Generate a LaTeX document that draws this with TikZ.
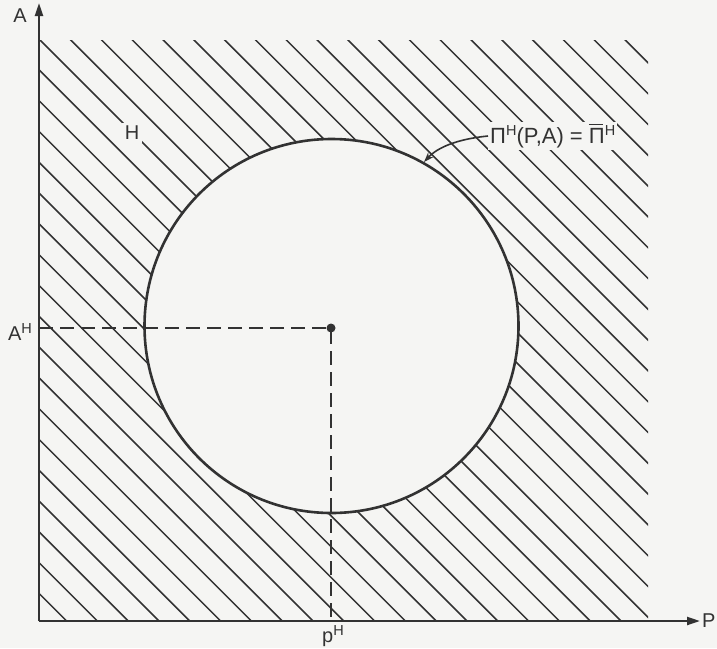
\documentclass[tikz,border=0pt]{standalone}
\usepackage{fontspec}
\setmainfont{Liberation Sans}
\usetikzlibrary{arrows.meta}
\definecolor{paper}{RGB}{245,245,243}
\definecolor{ink}{RGB}{50,50,50}
\tikzset{
  axis/.style={draw=ink, line width=2.2pt, -{Triangle[length=13pt,width=8pt]}},
  hatch/.style={draw=ink, line width=1.5pt},
  curve/.style={draw=ink, line width=2.6pt},
  dashline/.style={draw=ink, line width=2pt, dash pattern=on 14pt off 7pt},
  dotnode/.style={circle, fill=ink, inner sep=0pt, minimum size=9pt},
  lab/.style={text=ink, font=\fontsize{20}{20}\selectfont, inner sep=1.5pt},
  labbg/.style={lab, fill=paper, inner sep=3pt},
  pointer/.style={draw=ink, line width=1.6pt, -{Stealth[length=10pt,width=7pt]}}
}
\newcommand{\supH}{\raisebox{0.36em}{\fontsize{14.5}{14.5}\selectfont H}}
\newcommand{\barPi}{\makebox[0pt][l]{\raisebox{0.86em}{\rule{0.64em}{1.4pt}}}Π}
\begin{document}
\begin{tikzpicture}[x=1pt,y=-1pt]
\useasboundingbox (0,0) rectangle (717,648);
\fill[paper] (0,0) rectangle (717,648);
% hatching
\begin{scope}
  \clip (39,40) rectangle (648,621);
  \foreach \k in {-20,...,21} {
    \draw[hatch] ({30.8*\k},0) -- ++(700,700);
  }
\end{scope}
% circle
\fill[paper] (331.5,326) circle (187);
\draw[curve] (331.5,326) circle (187);
% axes
\coordinate (O) at (39,621);
\coordinate (Atop) at (39,3);
\coordinate (Pend) at (700,621);
\draw[axis] (O) -- (Atop);
\draw[axis] (O) -- (Pend);
% equilibrium point and dashed lines
\node[dotnode] (E) at (331,328) {};
\coordinate (AH) at (39,328);
\coordinate (PH) at (331,621);
\draw[dashline] (AH) -- (E.center) -- (PH);
% labels
\node[lab] (A) at (20,16) {A};
\node[lab, anchor=west, inner sep=0pt] (P) at (702,621) {P};
\node[lab] (AHlab) at (20,332) {A\supH};
\node[lab] (PHlab) at (333,636) {p\supH};
\node[labbg] (Hlab) at (132,133) {H};
\node[labbg, anchor=west, inner sep=2pt, font=\fontsize{22}{22}\selectfont] (Pi) at (488,136) {Π\supH(P,A) = \barPi\supH};
\coordinate (tip) at (424,162);
\draw[pointer] (Pi.west) .. controls (458,139) and (438,147) .. (tip);
\end{tikzpicture}
\end{document}
